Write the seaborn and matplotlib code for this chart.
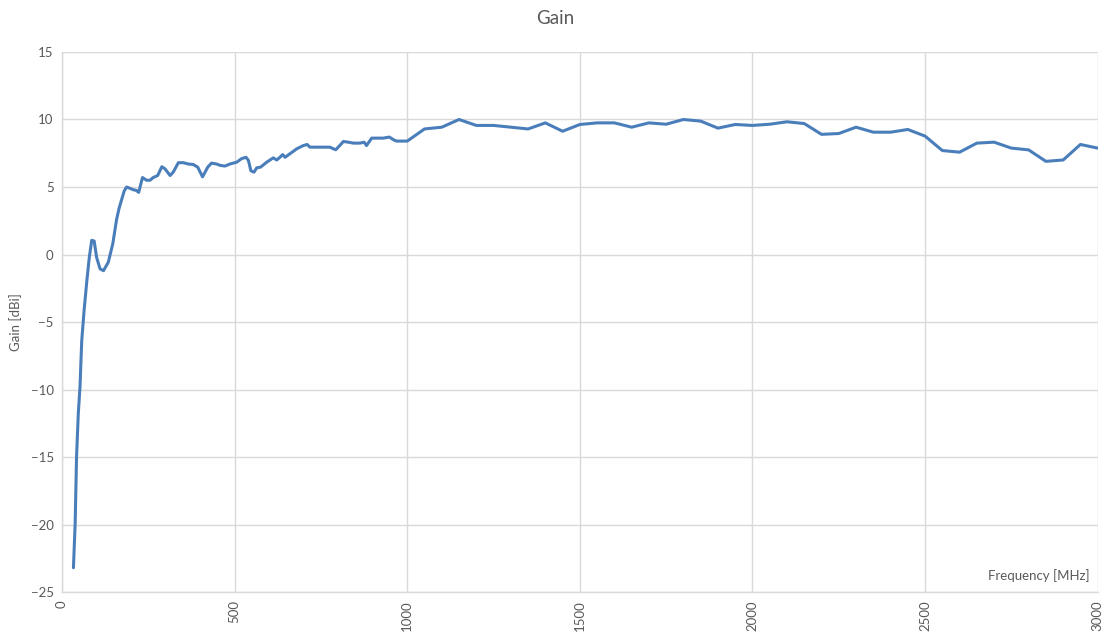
import numpy as np
import pandas as pd
import matplotlib
matplotlib.use("Agg")
import matplotlib.pyplot as plt
import seaborn as sns

freq_mhz = [33, 38, 42, 47, 52, 57, 64, 72, 79, 86, 93, 100, 110, 120, 134,
            147, 158, 165, 173, 180, 187, 197, 206, 215, 222, 233,
            245, 255, 264, 277, 289, 298, 313, 322, 337, 351, 366, 380, 393,
            407, 422, 433, 448, 458, 472, 486, 506, 520, 533, 540, 547, 556,
            564, 575, 593, 612, 622, 631, 639, 646, 660, 680, 699, 710, 718,
            738, 757, 776, 786, 793, 800, 815, 829, 844, 863, 875, 882, 897,
            911, 931, 948, 960, 969, 1000, 1050, 1100, 1150, 1200, 1250, 1300,
            1350, 1400, 1450, 1500, 1550, 1600, 1650, 1700, 1750, 1800, 1850,
            1900, 1950, 2000, 2050, 2100, 2150, 2200, 2250, 2300, 2350, 2400,
            2450, 2500, 2550, 2600, 2650, 2700, 2750, 2800, 2850, 2900, 2950,
            3000]
gain_dbi = [-23.2, -19.9, -15.0, -11.8, -9.8, -6.4, -4.1, -1.9, -0.2, 1.05,
            1.0, -0.2, -1.06, -1.2, -0.57, 0.8, 2.6, 3.4, 4.1, 4.7,
            5.0, 4.9, 4.8, 4.75, 4.6, 5.7, 5.5, 5.5, 5.7, 5.85, 6.5, 6.35,
            5.85, 6.1, 6.8, 6.8, 6.7, 6.67, 6.47, 5.75, 6.47, 6.77, 6.7, 6.6,
            6.55, 6.7, 6.84, 7.1, 7.2, 6.96, 6.2, 6.1, 6.42, 6.47, 6.84, 7.16,
            7.0, 7.2, 7.4, 7.2, 7.46, 7.83, 8.07, 8.15, 7.95, 7.95, 7.95, 7.95,
            7.83, 7.76, 7.95, 8.37, 8.32, 8.25, 8.25, 8.32, 8.07, 8.62, 8.62,
            8.62, 8.7, 8.5, 8.4, 8.4, 9.3, 9.43, 10.0, 9.56, 9.56, 9.43, 9.3,
            9.75, 9.13, 9.63, 9.75, 9.75, 9.43, 9.75, 9.65, 10.0, 9.88, 9.36,
            9.63, 9.56, 9.65, 9.83, 9.7, 8.9, 8.96, 9.43, 9.06, 9.06, 9.26,
            8.77, 7.7, 7.58, 8.25, 8.32, 7.88, 7.75, 6.9, 7.0, 8.15, 7.88]

x_ticks = [0, 500, 1000, 1500, 2000, 2500, 3000]
y_ticks = [-25, -20, -15, -10, -5, 0, 5, 10, 15]

df = pd.DataFrame({"Frequency": freq_mhz, "Gain": gain_dbi})

sns.set_theme(style="whitegrid")
plt.rcParams["font.family"] = ["Lato", "DejaVu Sans"]
text_col = "#595959"

fig = plt.figure(figsize=(11.1, 6.34), dpi=100)
ax = fig.add_axes([0.0559, 0.0662, 0.9330, 0.8518])

sns.lineplot(data=df, x="Frequency", y="Gain", ax=ax, color="#4a7ebb",
             linewidth=2.2, sort=False)

ax.set_xlim(0, 3000)
ax.set_ylim(-25, 15)
ax.set_xticks(x_ticks)
ax.set_yticks(y_ticks)
ax.set_xticklabels([str(t) for t in x_ticks], rotation=90)
ax.tick_params(axis="both", labelsize=9.5, colors=text_col, length=0, pad=6)
ax.grid(True, color="#d9d9d9", linewidth=1)
for side in ["top", "right"]:
    ax.spines[side].set_visible(False)
for side in ["left", "bottom"]:
    ax.spines[side].set_color("#d9d9d9")
    ax.spines[side].set_linewidth(1)

ax.set_xlabel("")
ax.set_ylabel("Gain [dBi]", fontsize=9.5, color=text_col, labelpad=6)
ax.text(0.992, 0.03, "Frequency [MHz]", transform=ax.transAxes,
        ha="right", va="center", fontsize=9.5, color=text_col)
fig.suptitle("Gain", fontsize=13.5, color=text_col, y=0.985)

fig.savefig("out.png", dpi=100)
